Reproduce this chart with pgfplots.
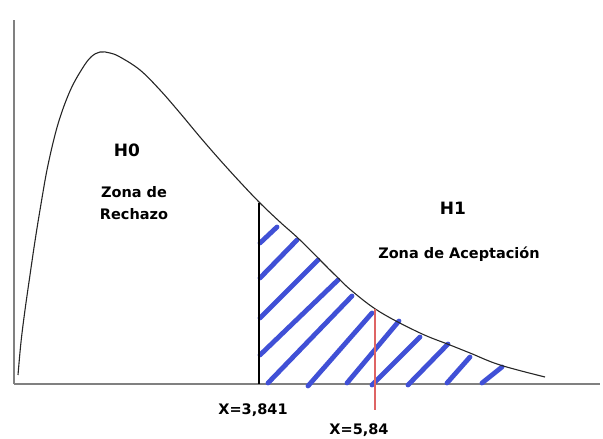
\documentclass[border=0pt]{standalone}
\usepackage{pgfplots}
\pgfplotsset{compat=1.18}
\usepackage{fontspec}
\setmainfont{DejaVu Sans}
\definecolor{hatchblue}{RGB}{64,80,214}
\definecolor{redline}{RGB}{222,100,100}
\definecolor{axgray}{RGB}{128,128,128}
\tikzset{
  hatch/.style={hatchblue, line width=4.8pt, line cap=round},
  lbl/.style={font=\bfseries\fontsize{14.5}{17}\selectfont, anchor=base, inner sep=0pt},
  hl/.style={font=\bfseries\fontsize{17}{20}\selectfont, anchor=base, inner sep=0pt},
}
\begin{document}
\begin{tikzpicture}
\begin{axis}[
  scale only axis, width=586pt, height=364pt,
  xmin=14, xmax=600, ymin=0, ymax=364,
  axis x line*=bottom, axis y line*=left,
  axis line style={axgray, line width=2pt, -},
  xtick=\empty, ytick=\empty,
  clip=false,
]
% hatch lines
\addplot[hatch] coordinates {(260,141)(277,157)};
\addplot[hatch] coordinates {(260,106)(297,144)};
\addplot[hatch] coordinates {(260,66)(318,124)};
\addplot[hatch] coordinates {(260,29)(338,104)};
\addplot[hatch] coordinates {(268,1)(352,88)};
\addplot[hatch] coordinates {(308,-2)(372,71)};
\addplot[hatch] coordinates {(347,1)(399,63)};
\addplot[hatch] coordinates {(372,-1)(420,47)};
\addplot[hatch] coordinates {(408,-1)(448,40)};
\addplot[hatch] coordinates {(447,1)(470,27)};
\addplot[hatch] coordinates {(482,1)(502,17)};
% density curve
\addplot[black!85, line width=1.1pt, smooth, tension=0.6] coordinates {
 (18,9)(21,42)(25,74)(30,109)(35,143)(41,180)(48,219)(58,260)(70,293)(82,315)
 (91,327)(100,332)(110,331)(120,327)(140,314)(160,294)(180,271)(200,247)(220,224)(240,202)
 (260,181)(280,162)(300,144)(333,111)(352,93)(380,72)(420,51)(450,39)(470,31)
 (500,19)(545,7)};
% critical value line
\addplot[black, line width=2pt] coordinates {(259,0)(259,181)};
% observed value line
\addplot[redline, line width=1.5pt] coordinates {(375,75)(375,-26)};
% labels
\node[hl] at (axis cs:127,227) {H0};
\node[lbl] at (axis cs:134,186) {Zona de};
\node[lbl] at (axis cs:134,164) {Rechazo};
\node[hl] at (axis cs:453,169) {H1};
\node[lbl] at (axis cs:459,125) {Zona de Aceptación};
\node[lbl] at (axis cs:253,-31) {X=3,841};
\node[lbl] at (axis cs:359,-51) {X=5,84};
\coordinate (bl) at (axis cs:0,-55);
\coordinate (tr) at (axis cs:603,384);
\end{axis}
\pgfresetboundingbox
\path[use as bounding box] (bl) rectangle (tr);
\end{tikzpicture}
\end{document}
